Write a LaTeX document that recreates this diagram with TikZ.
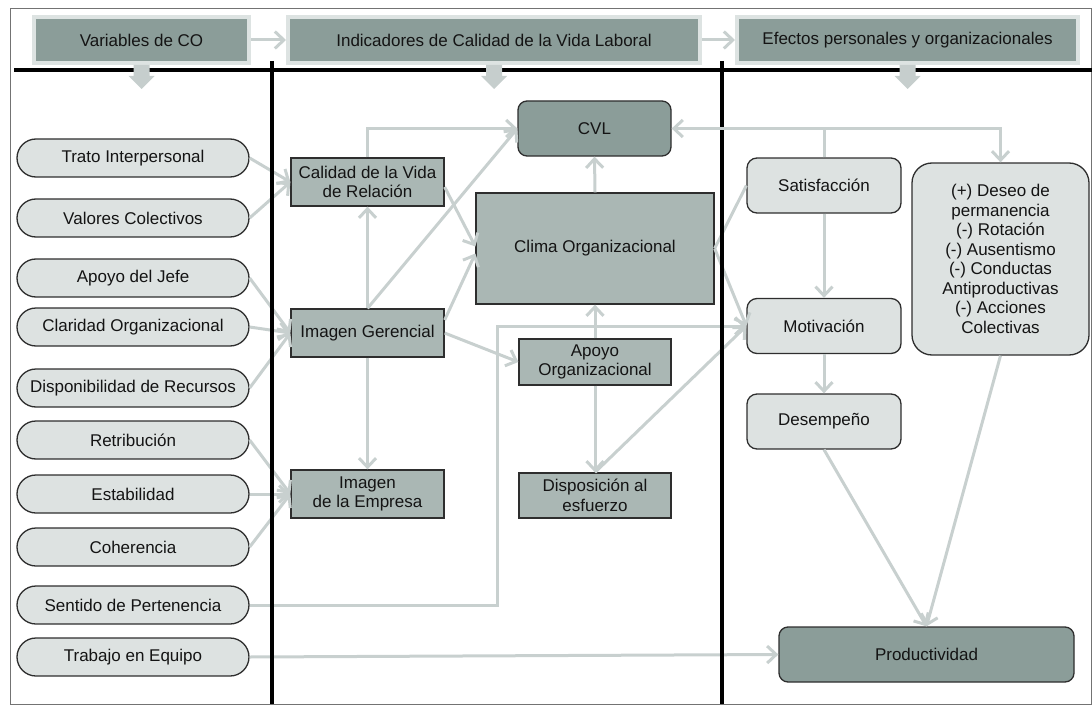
\documentclass[tikz,border=0pt]{standalone}
\usepackage{fontspec}
\setmainfont{Liberation Sans}
\usetikzlibrary{arrows.meta,calc}
\definecolor{darkf}{HTML}{8B9D99}
\definecolor{midf}{HTML}{AAB7B4}
\definecolor{lightf}{HTML}{DDE2E1}
\definecolor{conn}{HTML}{C8D0CF}
\definecolor{hdrb}{HTML}{DDE3E2}
\definecolor{edgec}{HTML}{2E2E2E}
\definecolor{blockc}{HTML}{C6CECD}
\tikzset{
  txt/.style={font=\fontsize{17}{19.5}\selectfont, align=center, inner sep=0pt, text=black!92},
  oval/.style={txt, draw=edgec, line width=1.3pt, fill=lightf, rounded corners=19pt, minimum width=232pt, minimum height=38pt},
  rbox/.style={txt, draw=edgec, line width=1.3pt, fill=midf, minimum width=153pt, minimum height=48pt},
  dbox/.style={txt, draw=edgec, line width=1.3pt, fill=darkf, rounded corners=9pt},
  lbox/.style={txt, draw=edgec, line width=1.3pt, fill=lightf, rounded corners=10pt, minimum width=154pt, minimum height=55pt},
  hdr/.style={txt, draw=hdrb, line width=4pt, fill=darkf, minimum height=46pt},
  conarrow/.style={draw=conn, line width=3pt, -{Straight Barb[length=9pt,width=17pt]}},
  conline/.style={draw=conn, line width=3pt},
  sepline/.style={draw=black, line width=3.5pt},
  blockarrow/.style={fill=blockc, draw=none}
}
\begin{document}
\begin{tikzpicture}[x=1pt,y=-1pt]
\useasboundingbox (0,0) rectangle (1092,706);
\draw[black!55, line width=1pt] (10,9) rectangle (1091.5,704.5);

% headers
\node[hdr, minimum width=215pt] (h1) at (141.5,40) {Variables de CO};
\node[hdr, minimum width=412pt] (h2) at (494,40) {Indicadores de Calidad de la Vida Laboral};
\node[hdr, minimum width=341pt] (h3) at (907.5,40) {Efectos personales y organizacionales};

% left column
\node[oval] (trato) at (133,158) {Trato Interpersonal};
\node[oval] (valores) at (133,218) {Valores Colectivos};
\node[oval] (jefe) at (133,278) {Apoyo del Jefe};
\node[oval] (claridad) at (133,327) {Claridad Organizacional};
\node[oval] (dispon) at (133,388) {Disponibilidad de Recursos};
\node[oval] (retrib) at (133,440) {Retribución};
\node[oval] (estab) at (133,494) {Estabilidad};
\node[oval] (coher) at (133,547) {Coherencia};
\node[oval] (sentido) at (133,605) {Sentido de Pertenencia};
\node[oval] (trabajo) at (133,657) {Trabajo en Equipo};

% middle column
\node[rbox] (calidad) at (367.5,182) {Calidad de la Vida\\de Relación};
\node[rbox] (imgger) at (367.5,333) {Imagen Gerencial};
\node[rbox] (imgemp) at (367.5,494) {Imagen\\de la Empresa};
\node[rbox, minimum width=238pt, minimum height=111pt] (clima) at (595,248.5) {Clima Organizacional};
\node[rbox, minimum width=152pt, minimum height=46pt] (apoyoorg) at (595,362) {Apoyo\\Organizacional};
\node[rbox, minimum width=152pt, minimum height=45pt] (dispo) at (595,495.5) {Disposición al\\esfuerzo};
\node[dbox, minimum width=153pt, minimum height=55pt] (cvl) at (594.5,128.5) {CVL};

% right column
\node[lbox] (satis) at (824,185.5) {Satisfacción};
\node[lbox] (motiv) at (824,326) {Motivación};
\node[lbox] (desemp) at (824,421.5) {Desempeño};
\node[txt, draw=edgec, line width=1.3pt, fill=lightf, rounded corners=20pt, minimum width=177pt, minimum height=192pt] (efectos) at (1000.5,259)
  {(+) Deseo de\\permanencia\\(-) Rotación\\(-) Ausentismo\\(-) Conductas\\Antiproductivas\\(-) Acciones\\Colectivas};
\node[dbox, minimum width=295pt, minimum height=55pt] (prod) at (926.5,654.5) {Productividad};

\coordinate (sentx) at (497,0);

% header connectors
\draw[conarrow] (h1.east) -- (h2.west);
\draw[conarrow] (h2.east) -- (h3.west);

% left to middle
\draw[conarrow] (trato.east) -- (calidad.west);
\draw[conarrow] (valores.east) -- (calidad.west);
\draw[conarrow] (jefe.east) -- (imgger.west);
\draw[conarrow] (claridad.east) -- (imgger.west);
\draw[conarrow] (dispon.east) -- (imgger.west);
\draw[conarrow] (retrib.east) -- (imgemp.west);
\draw[conarrow] (estab.east) -- (imgemp.west);
\draw[conarrow] (coher.east) -- (imgemp.west);
\draw[conarrow] (sentido.east) -| (sentx |- motiv.west) -- (motiv.west);
\draw[conarrow] (trabajo.east) -- (prod.west);

% middle
\draw[conarrow] (calidad.north) |- (cvl.west);
\draw[conarrow] (imgger.north) -- (cvl.west);
\draw[conarrow] (imgger.north) -- (calidad.south);
\draw[conarrow] (imgger.south) -- (imgemp.north);
\draw[conarrow] ([yshift=-5pt]calidad.east) -- ([yshift=2pt]clima.west);
\draw[conarrow] ([yshift=13pt]imgger.east) -- ([yshift=-5pt]clima.west);
\draw[conarrow] (imgger.east) -- (apoyoorg.west);
\draw[conarrow] (clima.north) -- (cvl.south);
\draw[conarrow] (apoyoorg.north) -- (clima.south);
\draw[conarrow] (apoyoorg.south) -- (dispo.north);
\draw[conarrow] (dispo.north) -- (motiv.west);

% middle to right
\draw[conline] (clima.east) -- (satis.west);
\draw[conarrow] (clima.east) -- (motiv.west);
\draw[conarrow] (satis.north) -- (satis.north |- cvl.east) -| (efectos.north);
\draw[conarrow] (satis.south) -- (motiv.north);
\draw[conarrow] (motiv.south) -- (desemp.north);
\draw[conarrow] (desemp.south) -- (prod.north);
\draw[conarrow] (efectos.south) -- (prod.north);

% separators
\draw[sepline] (14,70) -- (1092,70);
\draw[sepline] (272,61) -- (272,704);
\draw[sepline] (722,61) -- (722,704);

% connector crossing the right separator (drawn on top)
\draw[conarrow] (satis.north) |- (cvl.east);

% block down arrows
\foreach \cx in {141.5,494,907.5}{
  \fill[blockc] (\cx-8,65) -- (\cx+8,65) -- (\cx+8,76) -- (\cx+13,76) -- (\cx,89) -- (\cx-13,76) -- (\cx-8,76) -- cycle;
}
\end{tikzpicture}
\end{document}
